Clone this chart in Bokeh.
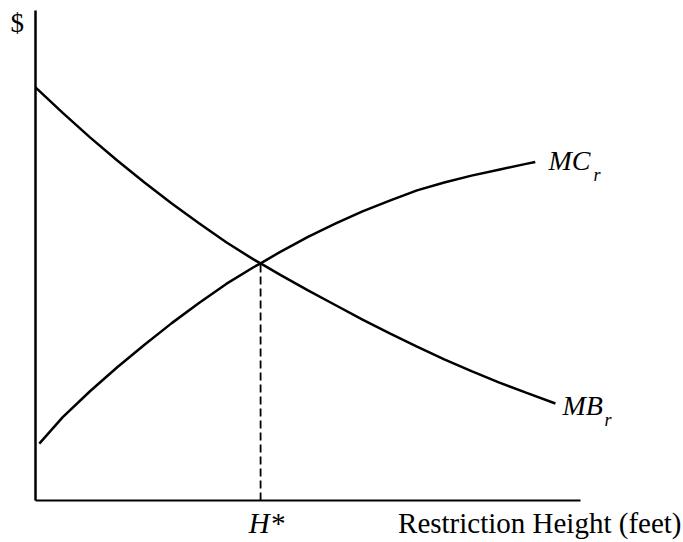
from bokeh.plotting import figure
from bokeh.models import Range1d, Label, LinearAxis, FixedTicker
from bokeh.embed import file_html
from bokeh.resources import INLINE

# ---- data (x and y in arbitrary units 0..10) ----
mb_x = [0.0, 0.5, 1.0, 1.5, 2.0, 2.5, 3.0, 3.5, 4.0, 4.13, 4.5, 5.0, 5.5, 6.0,
        6.5, 7.0, 7.5, 8.0, 8.5, 9.0, 9.54]
mb_y = [8.43, 7.91, 7.41, 6.94, 6.49, 6.06, 5.66, 5.27, 4.92, 4.84, 4.60, 4.29,
        3.99, 3.69, 3.41, 3.14, 2.88, 2.64, 2.41, 2.20, 1.98]

mc_x = [0.07, 0.5, 1.0, 1.5, 2.0, 2.5, 3.0, 3.5, 4.0, 4.13, 4.5, 5.0, 5.5, 6.0,
        6.5, 7.0, 7.5, 8.0, 8.5, 9.0, 9.17]
mc_y = [1.16, 1.70, 2.23, 2.72, 3.18, 3.62, 4.03, 4.42, 4.76, 4.84, 5.08, 5.38,
        5.65, 5.90, 6.12, 6.33, 6.49, 6.63, 6.75, 6.87, 6.91]

h_star = 4.13
y_star = 4.84

FONT = "Liberation Serif"

# frame geometry (picture px): axes box left 35, right 580, top 10, bottom 500
W, H = 683, 542
X0, X1, Y0, Y1 = 0.0, 10.0, 0.0, 10.0
FL, FR, FT, FB = 35, 580, 10, 500
sx = (X1 - X0) / (FR - FL)
sy = (Y1 - Y0) / (FB - FT)
SHIFT = 9  # px correction for label baseline placement
def dx(px):
    return X0 + (px - FL) * sx
def dy(py):
    return Y0 + (FB - py) * sy
def ty(py):
    return dy(py - SHIFT)

p = figure(width=W, height=H, output_backend="svg", toolbar_location=None,
           x_range=Range1d(dx(0), dx(W)), y_range=Range1d(dy(H), dy(0)),
           x_axis_location=None, y_axis_location=None,
           min_border=0, min_border_left=0, min_border_right=0,
           min_border_top=0, min_border_bottom=0)
p.outline_line_color = None
p.xgrid.visible = False
p.ygrid.visible = False
p.background_fill_color = "white"
p.border_fill_color = "white"

xa = LinearAxis(fixed_location=Y0, bounds=(X0, X1), ticker=FixedTicker(ticks=[]))
ya = LinearAxis(fixed_location=X0, bounds=(Y0, Y1), ticker=FixedTicker(ticks=[]))
for ax, lw in ((xa, 2), (ya, 2.5)):
    ax.axis_line_width = lw
    ax.axis_line_color = "black"
    ax.major_tick_line_color = None
    ax.minor_tick_line_color = None
    ax.major_label_standoff = 0
p.add_layout(xa, "below")
p.add_layout(ya, "left")

p.line(mb_x, mb_y, line_color="black", line_width=2.5)
p.line(mc_x, mc_y, line_color="black", line_width=2.5)
p.line([h_star, h_star], [Y0, y_star], line_color="black", line_width=1.8, line_dash="8 4")

def lab(txt, x, y, size, style="normal", align="left"):
    p.add_layout(Label(x=x, y=y, text=txt, text_font=FONT, text_font_size=size,
                       text_font_style=style, text_align=align,
                       text_baseline="alphabetic", text_color="black"))

lab("$", dx(10), ty(31), "27px")
lab("H*", h_star + 6 * sx, ty(531), "29px", "italic", "center")
lab("Restriction Height (feet)", dx(681), ty(531), "29px", "normal", "right")
lab("MC", dx(548), ty(169), "28px", "italic")
lab("r", dx(593), ty(183), "18px", "italic")
lab("MB", dx(562), ty(414), "28px", "italic")
lab("r", dx(604), ty(428), "18px", "italic")

open("out.html", "w").write(file_html(p, INLINE))
